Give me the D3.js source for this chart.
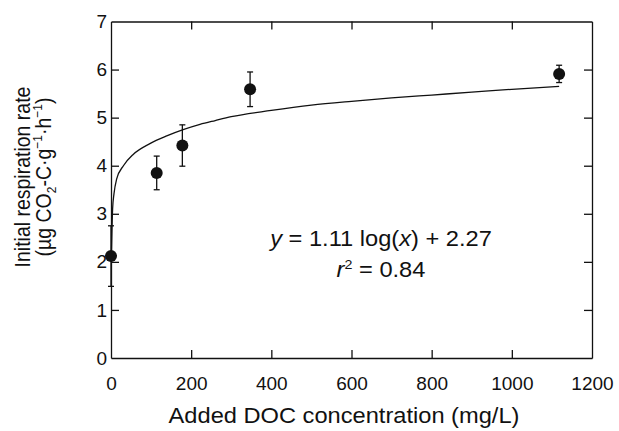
<!DOCTYPE html>
<meta charset="utf-8">
<style>
    body { margin: 0; background: #fff; }
    text { font-family: "Liberation Sans", Arial, sans-serif; fill: #111; }
    .axis path, .axis line { stroke: #111; stroke-width: 1.3px; }
    .axis text { font-size: 19px; }
</style>
<body>
<svg id="chart" width="619" height="431"></svg>
</body>
<script src="https://d3js.org/d3.v7.min.js"></script>
<script>

    // measured points (mean +/- error)
    var doc = [0, 114, 178, 347, 1118];
    var rate = [2.12, 3.85, 4.42, 5.59, 5.91];
    var err = [0.63, 0.35, 0.43, 0.36, 0.18];

    // fitted curve
    var fitX = [1, 4, 7.5, 14, 31, 56, 97, 139, 180, 222, 260, 300, 400, 500, 600, 700, 800, 900, 1000, 1118];
    var fitY = [2.12, 3.1, 3.42, 3.72, 4.0, 4.24, 4.46, 4.62, 4.75, 4.86, 4.94, 5.02, 5.15, 5.26, 5.34, 5.41, 5.47, 5.53, 5.59, 5.65];

    var xTicks = [0, 200, 400, 600, 800, 1000, 1200];
    var yTicks = [0, 1, 2, 3, 4, 5, 6, 7];

    var svg = d3.select("#chart");
    var mLeft = 111, mRight = 592, mTop = 21.5, mBottom = 358;

    var x = d3.scaleLinear().domain([0, 1200]).range([mLeft, mRight]);
    var y = d3.scaleLinear().domain([0, 7]).range([mBottom, mTop]);

    svg.append("g").attr("class", "axis")
        .attr("transform", "translate(0," + mBottom + ")")
        .call(d3.axisBottom(x).tickValues(xTicks).tickSize(-8).tickSizeOuter(0).tickPadding(19).tickFormat(d3.format("d")));
    svg.append("g").attr("class", "axis")
        .attr("transform", "translate(0," + mTop + ")")
        .call(d3.axisTop(x).tickValues(xTicks).tickSize(-8).tickSizeOuter(0).tickFormat(""));
    svg.append("g").attr("class", "axis")
        .attr("transform", "translate(" + mLeft + ",0)")
        .call(d3.axisLeft(y).tickValues(yTicks).tickSize(-8).tickSizeOuter(0).tickPadding(4).tickFormat(d3.format("d")));
    svg.append("g").attr("class", "axis")
        .attr("transform", "translate(" + mRight + ",0)")
        .call(d3.axisRight(y).tickValues(yTicks).tickSize(-8).tickSizeOuter(0).tickFormat(""));

    // hide the end ticks that sit on the frame
    svg.selectAll(".axis .tick line").filter(function (d) {
        return d === 0 || d === 1200 || d === 7;
    }).remove();

    var fit = fitX.map(function (v, i) { return [v, fitY[i]]; });
    svg.append("path")
        .datum(fit)
        .attr("fill", "none")
        .attr("stroke", "#111")
        .attr("stroke-width", 1.3)
        .attr("d", d3.line().x(function (d) { return x(d[0]); }).y(function (d) { return y(d[1]); }).curve(d3.curveMonotoneX));

    var pts = doc.map(function (v, i) { return {x: v, y: rate[i], e: err[i]}; });
    var g = svg.append("g").selectAll("g").data(pts).enter().append("g");
    g.append("line")
        .attr("x1", function (d) { return x(d.x); }).attr("x2", function (d) { return x(d.x); })
        .attr("y1", function (d) { return y(d.y - d.e); }).attr("y2", function (d) { return y(d.y + d.e); })
        .attr("stroke", "#111").attr("stroke-width", 1.3);
    [-1, 1].forEach(function (s) {
        g.append("line")
            .attr("x1", function (d) { return x(d.x) - 3; }).attr("x2", function (d) { return x(d.x) + 3; })
            .attr("y1", function (d) { return y(d.y + s * d.e); }).attr("y2", function (d) { return y(d.y + s * d.e); })
            .attr("stroke", "#111").attr("stroke-width", 1.3);
    });
    g.append("circle")
        .attr("cx", function (d) { return x(d.x); })
        .attr("cy", function (d) { return y(d.y); })
        .attr("r", 6)
        .attr("fill", "#111");

    // equation (the figure's lettering is a little wide, hence the x stretch)
    var eq = svg.append("text").attr("transform", "translate(381,246) scale(1.1,1)")
        .attr("text-anchor", "middle").style("font-size", "21.5px");
    eq.append("tspan").style("font-style", "italic").text("y");
    eq.append("tspan").text(" = 1.11 log(");
    eq.append("tspan").style("font-style", "italic").text("x");
    eq.append("tspan").text(") + 2.27");

    var r2 = svg.append("text").attr("transform", "translate(381,277) scale(1.1,1)")
        .attr("text-anchor", "middle").style("font-size", "21.5px");
    r2.append("tspan").style("font-style", "italic").text("r");
    r2.append("tspan").attr("dy", -8).style("font-size", "13px").text("2");
    r2.append("tspan").attr("dy", 8).text(" = 0.84");

    // axis titles
    svg.append("text").attr("transform", "translate(344,423) scale(1.1,1)").attr("text-anchor", "middle")
        .style("font-size", "21.5px").text("Added DOC concentration (mg/L)");

    var yt = svg.append("g").attr("transform", "translate(30,177) rotate(-90) scale(1,1.12)");
    yt.append("text").attr("text-anchor", "middle").style("font-size", "19.5px").text("Initial respiration rate");
    var l2 = yt.append("text").attr("y", 18.5).attr("text-anchor", "middle").style("font-size", "19.5px");
    l2.append("tspan").text("(\u00b5g CO");
    l2.append("tspan").attr("dy", 5).style("font-size", "12px").text("2");
    l2.append("tspan").attr("dy", -5).text("-C\u00b7g");
    l2.append("tspan").attr("dy", -8).style("font-size", "12px").text("\u22121");
    l2.append("tspan").attr("dy", 8).text("\u00b7h");
    l2.append("tspan").attr("dy", -8).style("font-size", "12px").text("\u22121");
    l2.append("tspan").attr("dy", 8).text(")");

</script>
